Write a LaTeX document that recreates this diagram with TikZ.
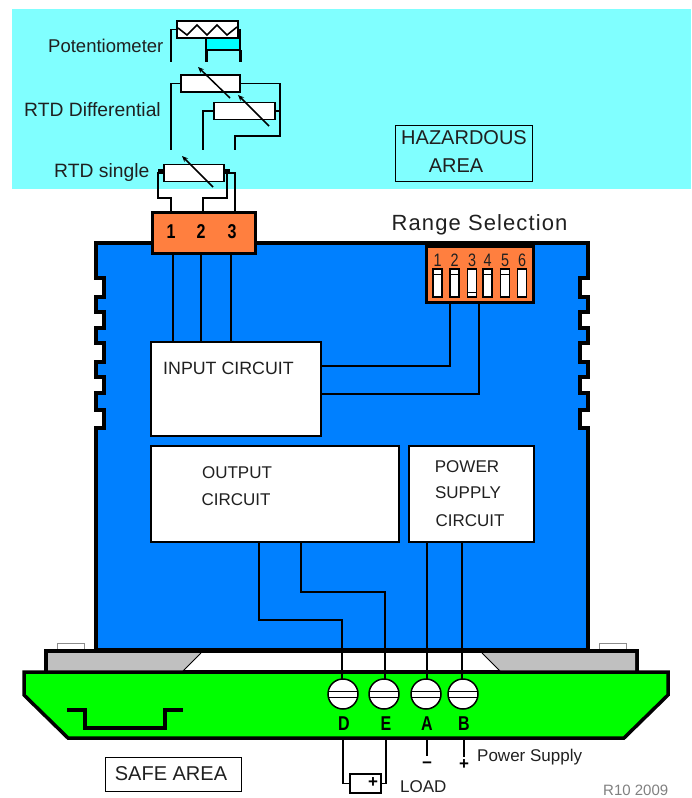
\documentclass[tikz,border=0pt]{standalone}
\usepackage{fontspec}
\setmainfont{Liberation Sans}
\usetikzlibrary{arrows.meta}
\definecolor{hazcyan}{HTML}{80FFFF}
\definecolor{potcyan}{HTML}{00FFFF}
\definecolor{bodyblue}{HTML}{0080FF}
\definecolor{termorange}{HTML}{FF7F3F}
\definecolor{basegreen}{HTML}{00FF00}
\definecolor{railgray}{HTML}{C0C0C0}
\definecolor{txt}{HTML}{202020}
\newcommand{\narrowtxt}[1]{\scalebox{0.8}[1]{#1}}
\tikzset{
  px/.style={x=1pt,y=-1pt},
  wire/.style={draw=black,line width=1.6pt},
  heavy/.style={draw=black,line width=3.5pt,line join=miter},
  resistor/.style={draw=black,line width=1.6pt,fill=white,minimum width=#1,minimum height=17pt,inner sep=0pt,outer sep=0pt},
  cbox/.style={draw=black,line width=1.5pt,fill=white,inner sep=0pt,outer sep=0pt},
  lab/.style={text=txt,inner sep=0pt,font=\fontsize{#1}{#1}\selectfont},
  termnum/.style={text=black,inner sep=0pt,font=\fontsize{#1}{#1}\selectfont\bfseries},
  adj/.style={draw=black,line width=1.5pt,-{Stealth[length=6pt,width=5pt]}},
  screw/.style={circle,draw=black,line width=1.5pt,fill=white,minimum size=30pt,inner sep=0pt,outer sep=0pt},
  dipsw/.style={draw=black,line width=1.5pt,fill=white,minimum width=9pt,minimum height=28pt,inner sep=0pt,outer sep=0pt}
}
\begin{document}
\begin{tikzpicture}[px]
\useasboundingbox (0,0) rectangle (691,798);
\clip (0,0) rectangle (691,798);
% hazardous area
\fill[hazcyan] (12,9) rectangle (691,189);
% potentiometer
\fill[potcyan] (206,38) rectangle (240,50);
\node[resistor=61pt] (pot) at (207.5,29.5) {};
\draw[wire] (178,28) -- (187,35) -- (197,25) -- (207,35) -- (217,25) -- (227,35) -- (237,27);
\coordinate (potA) at (171,62); \coordinate (potB) at (206,62); \coordinate (potC) at (240,62);
\draw[wire] (pot.west) -- (potA |- pot.west) -- (potA);
\draw[wire] (pot.east) -- (potC |- pot.east) -- (potC);
\draw[wire] (potB |- pot.south) -- (potB);
\draw[wire] (potB |- 0,50) -- (potC |- 0,50);
\draw[draw=black,line width=3pt] (potB |- 0,50) -- (potB);
\draw[draw=black,line width=3pt] (potC |- 0,50) -- (potC);
\node[lab=18.5,anchor=west] (potlab) at (48,46) {Potentiometer};
% RTD differential
\node[resistor=59pt] (rd1) at (210.5,83.5) {};
\node[resistor=61pt] (rd2) at (244.5,111) {};
\coordinate (rdA) at (171,150); \coordinate (rdB) at (203,150); \coordinate (rdC) at (235,150);
\coordinate (rdR) at (280,136);
\draw[wire] (rd1.west) -- (rdA |- rd1.west) -- (rdA);
\draw[wire] (rd2.west) -- (rdB |- rd2.west) -- (rdB);
\draw[wire] (rd1.east) -- (rdR |- rd1.east) -- (rdR) -- (rdC |- rdR) -- (rdC);
\draw[wire] (rd2.east) -- (rdR |- rd2.east);
\draw[adj] (230,98) -- (198,67);
\draw[adj] (269,126) -- (238,95);
\node[lab=19.3,anchor=west] (rdlab) at (24,110) {RTD Differential};
% RTD single
\node[resistor=60pt] (rs) at (194,173) {};
\draw[adj] (213,187) -- (182,156);
\node[lab=19.3,anchor=west] (rslab) at (54,173) {RTD single};
% hazardous label
\node[cbox,fill=none,line width=1pt,minimum width=137pt,minimum height=56pt] (haz) at (463.5,153) {};
\node[lab=20] (hazA) at (464,138) {HAZARDOUS};
\node[lab=20] (hazB) at (456,166) {AREA};
% body
\draw[heavy,fill=bodyblue] (96,243) -- (588,243) -- (588,278)
  -- (580,278) -- (580,297) -- (588,297) -- (588,312) -- (580,312) -- (580,328) -- (588,328)
  -- (588,343) -- (580,343) -- (580,362) -- (588,362) -- (588,377) -- (580,377) -- (580,393) -- (588,393)
  -- (588,410) -- (580,410) -- (580,428) -- (588,428) -- (588,650) -- (96,650) -- (96,428)
  -- (104,428) -- (104,410) -- (96,410) -- (96,393) -- (104,393) -- (104,377) -- (96,377)
  -- (96,362) -- (104,362) -- (104,343) -- (96,343) -- (96,328) -- (104,328) -- (104,312) -- (96,312)
  -- (96,297) -- (104,297) -- (104,278) -- (96,278) -- cycle;
% terminal block
\node[draw=black,line width=3pt,fill=termorange,minimum width=103pt,minimum height=41pt,inner sep=0pt,outer sep=0pt] (block) at (203.5,232.5) {};
\node[termnum=20] (tb1) at (171,232) {\narrowtxt{1}};
\node[termnum=20] (tb2) at (201,232) {\narrowtxt{2}};
\node[termnum=20] (tb3) at (232,232) {\narrowtxt{3}};
% leads from RTD single to terminals
\coordinate (ta) at (171,198); \coordinate (tcen) at (203,198); \coordinate (tc) at (235,198);
\coordinate (tl) at (158,198); \coordinate (tr) at (227,198);
\draw[wire] (rs.west) -- (tl |- rs.west) -- (tl) -- (ta) -- (ta |- block.north);
\draw[wire] (rs.east) -- (tr |- rs.east) -- (tr) -- (tcen) -- (tcen |- block.north);
\draw[wire] (rs.east) -- (tc |- rs.east) -- (tc |- block.north);
\fill (158,169) rectangle (163,174);
\fill (224,169) rectangle (230,174);
% circuit boxes
\node[cbox,minimum width=170pt,minimum height=94pt] (input) at (236,389) {};
\node[cbox,minimum width=248pt,minimum height=96pt] (output) at (275,494) {};
\node[cbox,minimum width=125pt,minimum height=96pt] (power) at (471.5,494) {};
\node[lab=17.8,anchor=west] (inlab) at (163,368) {INPUT CIRCUIT};
\node[lab=17] (outA) at (237,473) {OUTPUT};
\node[lab=17] (outB) at (236,500) {CIRCUIT};
\node[lab=17] (powA) at (467,467) {POWER};
\node[lab=17] (powB) at (468,493) {SUPPLY};
\node[lab=17] (powC) at (470,521) {CIRCUIT};
% terminal to input
\coordinate (w1) at (173,253); \coordinate (w2) at (201,253); \coordinate (w3) at (231,253);
\draw[wire] (w1) -- (w1 |- input.north);
\draw[wire] (w2) -- (w2 |- input.north);
\draw[wire] (w3) -- (w3 |- input.north);
% range selection
\node[lab=21,font=\fontsize{22}{22}\selectfont\addfontfeatures{LetterSpace=5}] (rangelab) at (479.5,225) {Range Selection};
\node[draw=black,line width=3pt,fill=termorange,minimum width=107pt,minimum height=56pt,inner sep=0pt,outer sep=0pt] (dip) at (480,274.5) {};
\foreach \n/\x/\d in {1/437.5/274,2/454.5/274,3/472/292,4/487.5/274,5/505/274,6/522/0}{
  \node[lab=18] (dn\n) at (\x,260) {\narrowtxt{\n}};
  \node[dipsw] (ds\n) at (\x,283) {};
  \ifnum\d>0 \draw[draw=black,line width=1pt] (\x-4,\d) -- (\x+4,\d); \fi
}
\coordinate (s1) at (450,302); \coordinate (s2) at (479,302);
\coordinate (i1) at (321,366); \coordinate (i2) at (321,394);
\draw[wire] (s1) -- (s1 |- i1) -- (i1);
\draw[wire] (s2) -- (s2 |- i2) -- (i2);
% base rail
\draw[draw=black!45,line width=1pt,fill=white] (57,650) -- (57,643) -- (84,643) -- (84,650);
\draw[draw=black!45,line width=1pt,fill=white] (599,650) -- (599,643) -- (626,643) -- (626,650);
\draw[heavy,fill=white] (46,651) rectangle (637,672);
\fill[railgray] (48,653) -- (201,653) -- (183,671) -- (48,671) -- cycle;
\draw[draw=black,line width=1pt] (201,653) -- (183,671);
\fill[railgray] (482,653) -- (635,653) -- (635,671) -- (500,671) -- cycle;
\draw[draw=black,line width=1pt] (482,653) -- (500,671);
% screws' wires
\coordinate (pD) at (342,620); \coordinate (pE) at (385,592);
\coordinate (oD) at (259,542); \coordinate (oE) at (301,542);
\coordinate (pA) at (427,542); \coordinate (pB) at (462,542);
% green base
\draw[heavy,fill=basegreen] (24,672) -- (668,672) -- (668,695) -- (624,738) -- (68,738) -- (24,695) -- cycle;
\draw[heavy] (67,710) -- (85,710) -- (85,728) -- (165,728) -- (165,710) -- (183,710);
% screws
\foreach \n/\x/\t in {D/343/344,E/384/386,A/426/427,B/463/464}{
  \node[screw] (sc\n) at (\x,694) {};
  \draw[draw=black,line width=1pt] (\x-14,691) -- (\x+14,691);
  \draw[draw=black,line width=1pt] (\x-14,697) -- (\x+14,697);
  \node[termnum=20] (lt\n) at (\t,724) {\narrowtxt{\n}};
}
\draw[wire] (oD) -- (oD |- pD) -- (pD) -- (pD |- scD.north);
\draw[wire] (oE) -- (oE |- pE) -- (pE) -- (pE |- scE.north);
\draw[wire] (pA) -- (pA |- scA.north);
\draw[wire] (pB) -- (pB |- scB.north);
% load
\node[cbox,minimum width=31pt,minimum height=19pt] (load) at (365.5,783.5) {};
\node[text=black,inner sep=0pt,font=\fontsize{17}{17}\selectfont\bfseries] (loadplus) at (373,783) {+};
\coordinate (bD) at (343,738); \coordinate (bE) at (386,738);
\draw[wire] (bD) -- (bD |- load.west) -- (load.west);
\draw[wire] (bE) -- (bE |- load.east) -- (load.east);
\node[lab=17,anchor=west] (loadlab) at (400,787) {LOAD};
% power supply
\coordinate (bA) at (427,738); \coordinate (bB) at (464,738);
\coordinate (eA) at (427,756); \coordinate (eB) at (464,757);
\draw[wire] (bA) -- (eA);
\draw[wire] (bB) -- (eB);
\node[text=black,inner sep=0pt,font=\fontsize{17}{17}\selectfont\bfseries] (minus) at (427,765) {−};
\node[text=black,inner sep=0pt,font=\fontsize{17}{17}\selectfont\bfseries] (plus) at (464,765) {+};
\node[lab=17,anchor=west] (pslab) at (477,757) {Power Supply};
% safe area
\node[cbox,line width=1pt,minimum width=136pt,minimum height=34pt] (safe) at (173,774) {};
\node[lab=20] (safelab) at (171,774) {SAFE AREA};
\node[text=black!50,inner sep=0pt,anchor=west,font=\fontsize{15}{15}\selectfont] (ref) at (603,790) {R10 2009};
\end{tikzpicture}
\end{document}
